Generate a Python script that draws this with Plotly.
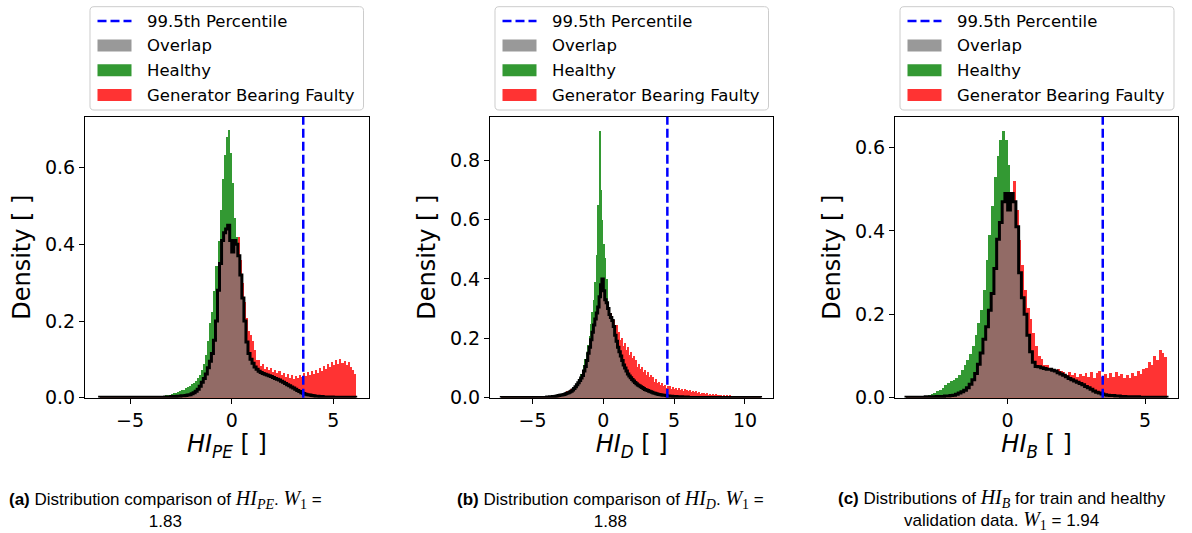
import plotly.graph_objects as go

FIG_W, FIG_H = 1192, 533

# ------------------------------------------------------------------ data
# (a) HI_PE : density per bin, bins of equal width starting at A_BIN_START
A_BIN_START = -6.5
A_BIN_WIDTH = 0.1
A_HEALTHY = [
    0.001, 0.001, 0.001, 0.001, 0.001, 0.001, 0.001, 0.001, 0.001, 0.001,
    0.001, 0.001, 0.001, 0.001, 0.001, 0.001, 0.001, 0.001, 0.001, 0.001,
    0.001, 0.001, 0.002, 0.002, 0.002, 0.003, 0.003, 0.004, 0.004, 0.005,
    0.005, 0.006, 0.007, 0.008, 0.009, 0.011, 0.012, 0.014, 0.016, 0.018,
    0.020, 0.022, 0.025, 0.028, 0.032, 0.036, 0.040, 0.045, 0.051, 0.060,
    0.072, 0.090, 0.112, 0.150, 0.195, 0.225, 0.280, 0.345, 0.410, 0.490,
    0.570, 0.635, 0.680, 0.700, 0.640, 0.560, 0.470, 0.420, 0.370, 0.320,
    0.260, 0.200, 0.145, 0.115, 0.100, 0.090, 0.080, 0.074, 0.069, 0.066,
    0.063, 0.061, 0.059, 0.057, 0.055, 0.053, 0.050, 0.048, 0.046, 0.043,
    0.040, 0.037, 0.034, 0.031, 0.028, 0.025, 0.022, 0.019, 0.016, 0.013,
    0.011, 0.009, 0.008, 0.007, 0.006, 0.005, 0.004, 0.004, 0.003, 0.003,
    0.002, 0.002, 0.002, 0.002, 0.002, 0.001, 0.001, 0.001, 0.001, 0.001,
    0.001, 0.001, 0.001, 0.001, 0.001, 0.001,
]
A_FAULTY = [
    0.001, 0.001, 0.001, 0.001, 0.001, 0.001, 0.001, 0.001, 0.001, 0.001,
    0.001, 0.001, 0.001, 0.001, 0.001, 0.001, 0.001, 0.001, 0.001, 0.001,
    0.001, 0.001, 0.001, 0.001, 0.001, 0.001, 0.001, 0.001, 0.001, 0.001,
    0.001, 0.001, 0.002, 0.002, 0.002, 0.003, 0.003, 0.003, 0.004, 0.004,
    0.005, 0.005, 0.006, 0.007, 0.008,
    0.010, 0.013, 0.017, 0.022, 0.030, 0.040, 0.050, 0.062, 0.078, 0.095,
    0.115, 0.150, 0.200, 0.280, 0.350, 0.410, 0.430, 0.440, 0.450, 0.410,
    0.380, 0.410, 0.400, 0.420, 0.360, 0.300, 0.250, 0.210, 0.175, 0.165,
    0.150, 0.125, 0.100, 0.098, 0.084, 0.088, 0.076, 0.082, 0.072, 0.077,
    0.068, 0.074, 0.064, 0.070, 0.060, 0.066, 0.055, 0.062, 0.052, 0.060,
    0.050, 0.058, 0.053, 0.061, 0.054, 0.064, 0.057, 0.067, 0.060, 0.070,
    0.062, 0.073, 0.066, 0.078, 0.070, 0.084, 0.076, 0.090, 0.082, 0.094,
    0.086, 0.098, 0.090, 0.102, 0.092, 0.097, 0.086, 0.093, 0.080, 0.072,
    0.062,
]

# (b) HI_D
B_BIN_START = -7.2
B_BIN_WIDTH = 0.1
B_HEALTHY = [
    0.001, 0.001, 0.001, 0.001, 0.001, 0.001, 0.001, 0.001, 0.001, 0.001,
    0.001, 0.001, 0.001, 0.001, 0.001, 0.001, 0.001, 0.001, 0.001, 0.001,
    0.001, 0.001, 0.001, 0.001, 0.001, 0.001, 0.001, 0.001, 0.001, 0.001,
    0.001, 0.001,
    0.002, 0.002, 0.003, 0.003, 0.004, 0.004, 0.005, 0.006, 0.007, 0.008,
    0.009, 0.010, 0.011, 0.013, 0.015, 0.017, 0.019, 0.022, 0.026, 0.031,
    0.037, 0.044, 0.055, 0.068, 0.080, 0.095, 0.110, 0.130, 0.150, 0.180,
    0.210, 0.250, 0.290, 0.330, 0.390, 0.480, 0.650, 0.900, 0.700, 0.600,
    0.520, 0.470, 0.400, 0.300, 0.280, 0.270, 0.260, 0.240, 0.210, 0.190,
    0.170, 0.155, 0.140, 0.125, 0.110, 0.100, 0.090, 0.080, 0.073, 0.067,
    0.061, 0.056, 0.051, 0.047, 0.043, 0.040, 0.037, 0.034, 0.031, 0.028,
    0.026, 0.024, 0.022, 0.020, 0.018, 0.016, 0.015, 0.013, 0.012, 0.011,
    0.010, 0.009, 0.008, 0.008, 0.007, 0.006, 0.006, 0.005, 0.005, 0.004,
    0.004, 0.004, 0.003, 0.003, 0.003, 0.003, 0.002, 0.002, 0.002, 0.002,
    0.001, 0.001, 0.001, 0.001, 0.001, 0.001, 0.001, 0.001, 0.001, 0.001,
    0.001, 0.001, 0.001, 0.001, 0.001, 0.001, 0.001, 0.001, 0.001, 0.001,
    0.001, 0.001, 0.001, 0.001, 0.001, 0.001, 0.001, 0.001, 0.001, 0.001,
    0.001, 0.001, 0.001, 0.001, 0.001, 0.001, 0.001, 0.001, 0.001, 0.001,
    0.001, 0.001, 0.001, 0.001, 0.001, 0.001, 0.001, 0.001, 0.001, 0.001,
    0.001,
]
B_FAULTY = [
    0.001, 0.001, 0.001, 0.001, 0.001, 0.001, 0.001, 0.001, 0.001, 0.001,
    0.001, 0.001, 0.001, 0.001, 0.001, 0.001, 0.001, 0.001, 0.001, 0.001,
    0.001, 0.001, 0.001, 0.001, 0.001, 0.001, 0.001, 0.001, 0.001, 0.001,
    0.001, 0.001,
    0.002, 0.003, 0.004, 0.005, 0.006, 0.007, 0.008, 0.009, 0.010, 0.011,
    0.013, 0.015, 0.017, 0.019, 0.022, 0.025, 0.028, 0.030, 0.033, 0.036,
    0.040, 0.045, 0.050, 0.058, 0.066, 0.075, 0.090, 0.105, 0.125, 0.150,
    0.170, 0.195, 0.220, 0.245, 0.265, 0.285, 0.305, 0.340, 0.380, 0.400,
    0.360, 0.330, 0.320, 0.310, 0.300, 0.285, 0.270, 0.262, 0.240, 0.246,
    0.215, 0.222, 0.195, 0.202, 0.176, 0.185, 0.160, 0.172, 0.146, 0.155,
    0.134, 0.140, 0.121, 0.128, 0.106, 0.114, 0.096, 0.104, 0.087, 0.095,
    0.079, 0.086, 0.070, 0.078, 0.062, 0.071, 0.055, 0.063, 0.049, 0.055,
    0.043, 0.049, 0.039, 0.044, 0.035, 0.042, 0.033, 0.039, 0.031, 0.037,
    0.030, 0.035, 0.027, 0.033, 0.026, 0.031, 0.025, 0.030, 0.023, 0.027,
    0.022, 0.026, 0.020, 0.023, 0.019, 0.022, 0.017, 0.020, 0.015, 0.018,
    0.014, 0.016, 0.012, 0.016, 0.011, 0.014, 0.010, 0.013, 0.009, 0.012,
    0.009, 0.011, 0.008, 0.011, 0.007, 0.010, 0.007, 0.009, 0.006, 0.009,
    0.006, 0.008, 0.005, 0.008, 0.005, 0.007, 0.004, 0.007, 0.004, 0.006,
    0.003, 0.006, 0.003, 0.005, 0.002, 0.005, 0.002, 0.004, 0.002, 0.003,
    0.002,
]

# (c) HI_B
C_BIN_START = -3.7
C_BIN_WIDTH = 0.1
C_HEALTHY = [
    0.001, 0.001, 0.002, 0.002, 0.003, 0.004, 0.005, 0.006, 0.008, 0.010,
    0.013, 0.016, 0.020, 0.025, 0.030, 0.036, 0.040, 0.043, 0.048, 0.056,
    0.066, 0.078, 0.090, 0.105, 0.125, 0.150, 0.180, 0.210, 0.260, 0.330,
    0.390, 0.460, 0.530, 0.580, 0.620, 0.640, 0.620, 0.560,
    0.490, 0.470, 0.410, 0.300, 0.240, 0.200, 0.150, 0.110, 0.085, 0.075,
    0.074, 0.072, 0.070, 0.068, 0.071, 0.069, 0.066, 0.060, 0.057, 0.054,
    0.050, 0.046, 0.043, 0.040, 0.037, 0.034, 0.031, 0.027, 0.024, 0.020,
    0.016, 0.013, 0.011, 0.009, 0.007, 0.006, 0.005, 0.005, 0.004, 0.004,
    0.003,
    0.003, 0.002, 0.002, 0.002, 0.002, 0.002, 0.001, 0.001, 0.001, 0.001,
    0.001, 0.001, 0.001, 0.001, 0.001, 0.001,
]
C_FAULTY = [
    0.001, 0.001, 0.001, 0.001, 0.001, 0.001, 0.001, 0.002, 0.002, 0.002,
    0.002, 0.003, 0.003, 0.003, 0.004, 0.004, 0.005,
    0.006, 0.008, 0.011, 0.014, 0.018, 0.024, 0.032, 0.043, 0.058, 0.080,
    0.107, 0.140, 0.170, 0.210, 0.250, 0.310, 0.380, 0.420, 0.470, 0.490,
    0.450, 0.490, 0.520, 0.450, 0.380, 0.320, 0.260, 0.215, 0.190, 0.155,
    0.125, 0.100, 0.094, 0.080, 0.078, 0.068, 0.066, 0.064, 0.070, 0.065,
    0.062, 0.056, 0.063, 0.054, 0.060, 0.050, 0.058, 0.052, 0.061, 0.050,
    0.062, 0.049, 0.060, 0.064, 0.050, 0.058, 0.048, 0.060, 0.051, 0.062,
    0.052, 0.058, 0.047, 0.056, 0.049, 0.060, 0.052, 0.064, 0.058, 0.070,
    0.072, 0.086, 0.080, 0.100, 0.092, 0.114, 0.108, 0.098,
]

PERCENTILE_995 = [3.52, 4.52, 3.46]

X_TICKS = [[-5, 0, 5], [-5, 0, 5, 10], [0, 5]]
Y_TICKS = [[0.0, 0.2, 0.4, 0.6], [0.0, 0.2, 0.4, 0.6, 0.8], [0.0, 0.2, 0.4, 0.6]]
X_TITLES = [
    "<i>HI</i><sub><i>PE</i></sub> [ ]",
    "<i>HI</i><sub><i>D</i></sub> [ ]",
    "<i>HI</i><sub><i>B</i></sub> [ ]",
]
Y_TITLE = "Density [ ]"
LEGEND_LABELS = ["99.5th Percentile", "Overlap", "Healthy", "Generator Bearing Faulty"]

MATH = "<span style='font-family:Liberation Serif;font-size:20px'>{}</span>"
CAPTIONS = [
    "<b>(a)</b> Distribution comparison of " + MATH.format("<i>HI</i><sub><i>PE</i></sub>")
    + ". " + MATH.format("<i>W</i><sub>1</sub>") + " =<br>1.83",
    "<b>(b)</b> Distribution comparison of " + MATH.format("<i>HI</i><sub><i>D</i></sub>")
    + ". " + MATH.format("<i>W</i><sub>1</sub>") + " =<br>1.88",
    "<b>(c)</b> Distributions of " + MATH.format("<i>HI</i><sub><i>B</i></sub>")
    + " for train and healthy<br>validation data. " + MATH.format("<i>W</i><sub>1</sub>")
    + " = 1.94",
]

PANELS = [
    (A_BIN_START, A_BIN_WIDTH, A_HEALTHY, A_FAULTY),
    (B_BIN_START, B_BIN_WIDTH, B_HEALTHY, B_FAULTY),
    (C_BIN_START, C_BIN_WIDTH, C_HEALTHY, C_FAULTY),
]

# ------------------------------------------------------------------ layout constants (pixels)
AX_X_PX = [(85, 368.7), (490, 773.3), (895, 1178.3)]
AX_Y_PX = (116.7, 397.7)
X_RANGES = [(-7.22, 6.74), (-8.0, 12.0), (-4.10, 6.21)]
Y_RANGES = [(0, 0.733), (0, 0.946), (0, 0.674)]
CAPTION_X_PX = [165, 610, 1002]
LEGEND_BOX_PX = [(90, 363.5), (495, 768.5), (900, 1174)]
LEGEND_Y_PX = (6.7, 110)
ROW_Y_PX = [21, 45.5, 70.3, 95]

GREEN = "rgb(51,153,51)"
RED = "rgb(255,51,51)"
BROWN = "rgb(146,107,102)"
GRAY = "rgb(153,153,153)"
FONT = "DejaVu Sans"


def px_x(px):
    return px / FIG_W


def px_y(py):
    return 1 - py / FIG_H


fig = go.Figure()

for i, (start, width, healthy, faulty) in enumerate(PANELS):
    n = len(healthy)
    centers = [start + width * (k + 0.5) for k in range(n)]
    edges = [start + width * k for k in range(n + 1)]
    overlap = [min(h, f) for h, f in zip(healthy, faulty)]
    xa = "x" if i == 0 else f"x{i + 1}"
    ya = "y" if i == 0 else f"y{i + 1}"
    common = dict(xaxis=xa, yaxis=ya, width=width, showlegend=False,
                  marker_line_width=0, hoverinfo="skip")
    fig.add_trace(go.Bar(x=centers, y=healthy, marker_color=GREEN, name="Healthy", **common))
    fig.add_trace(go.Bar(x=centers, y=faulty, marker_color=RED,
                         name="Generator Bearing Faulty", **common))
    fig.add_trace(go.Bar(x=centers, y=overlap, marker_color=BROWN, name="Overlap", **common))
    step_x = [edges[0]] + edges[:-1] + [edges[-1]]
    step_y = [0] + overlap + [0]
    fig.add_trace(go.Scatter(x=step_x, y=step_y, mode="lines", line_shape="hv",
                             line=dict(color="black", width=3), xaxis=xa, yaxis=ya,
                             showlegend=False, hoverinfo="skip", name="Overlap outline"))
    fig.add_shape(type="line", xref=xa, yref=f"{ya} domain", x0=PERCENTILE_995[i],
                  x1=PERCENTILE_995[i], y0=0, y1=1,
                  line=dict(color="blue", width=2.5, dash="9px,4px"))

axis_common = dict(showline=True, linecolor="black", linewidth=1, mirror=True,
                   ticks="outside", ticklen=5, tickwidth=1, tickcolor="black",
                   showgrid=False, zeroline=False,
                   tickfont=dict(family=FONT, size=19, color="black"))

layout = dict(
    width=FIG_W, height=FIG_H, margin=dict(l=0, r=0, t=0, b=0),
    paper_bgcolor="white", plot_bgcolor="white", barmode="overlay", bargap=0,
    showlegend=False,
)
for i in range(3):
    xk = "xaxis" if i == 0 else f"xaxis{i + 1}"
    yk = "yaxis" if i == 0 else f"yaxis{i + 1}"
    ya = "y" if i == 0 else f"y{i + 1}"
    xa = "x" if i == 0 else f"x{i + 1}"
    layout[xk] = dict(
        domain=[px_x(AX_X_PX[i][0]), px_x(AX_X_PX[i][1])], range=list(X_RANGES[i]),
        anchor=ya, tickvals=X_TICKS[i],
        ticktext=[("\u2212" + str(abs(v))) if v < 0 else str(v) for v in X_TICKS[i]],
        title=dict(text=X_TITLES[i], font=dict(family=FONT, size=24, color="black"),
                   standoff=4),
        automargin=False, **axis_common)
    layout[yk] = dict(
        domain=[px_y(AX_Y_PX[1]), px_y(AX_Y_PX[0])], range=list(Y_RANGES[i]),
        anchor=xa, tickvals=Y_TICKS[i], ticktext=[f"{v:.1f}" for v in Y_TICKS[i]],
        title=dict(text=Y_TITLE, font=dict(family=FONT, size=24, color="black"),
                   standoff=7),
        automargin=False, **axis_common)
fig.update_layout(**layout)


def rounded_box(x0, x1, y0, y1, r=4):
    X = lambda v: f"{px_x(v):.6f}"
    Y = lambda v: f"{px_y(v):.6f}"
    return (f"M {X(x0 + r)},{Y(y0)} L {X(x1 - r)},{Y(y0)} Q {X(x1)},{Y(y0)} {X(x1)},{Y(y0 + r)} "
            f"L {X(x1)},{Y(y1 - r)} Q {X(x1)},{Y(y1)} {X(x1 - r)},{Y(y1)} "
            f"L {X(x0 + r)},{Y(y1)} Q {X(x0)},{Y(y1)} {X(x0)},{Y(y1 - r)} "
            f"L {X(x0)},{Y(y0 + r)} Q {X(x0)},{Y(y0)} {X(x0 + r)},{Y(y0)} Z")


patch_colors = [None, GRAY, GREEN, RED]
for i in range(3):
    L, R = LEGEND_BOX_PX[i]
    fig.add_shape(type="path", xref="paper", yref="paper",
                  path=rounded_box(L, R, LEGEND_Y_PX[0], LEGEND_Y_PX[1]),
                  line=dict(color="rgb(204,204,204)", width=1), fillcolor="white")
    for j, label in enumerate(LEGEND_LABELS):
        yc = ROW_Y_PX[j]
        if j == 0:
            fig.add_shape(type="line", xref="paper", yref="paper",
                          x0=px_x(L + 7.5), x1=px_x(L + 41.5), y0=px_y(yc), y1=px_y(yc),
                          line=dict(color="blue", width=2.5, dash="9px,4px"))
        else:
            fig.add_shape(type="rect", xref="paper", yref="paper",
                          x0=px_x(L + 7.5), x1=px_x(L + 41.5), y0=px_y(yc - 6), y1=px_y(yc + 6),
                          fillcolor=patch_colors[j], line=dict(width=0))
        fig.add_annotation(x=px_x(L + 55), y=px_y(yc), xref="paper", yref="paper",
                           text=label, showarrow=False, xanchor="left", yanchor="middle",
                           font=dict(family=FONT, size=16.5, color="black"))

for i in range(3):
    fig.add_annotation(x=px_x(CAPTION_X_PX[i]), y=px_y(509), xref="paper", yref="paper",
                       text=CAPTIONS[i], showarrow=False, xanchor="center", yanchor="middle",
                       align="center",
                       font=dict(family="Liberation Sans", size=17, color="black"))

fig.write_html("out.html")
